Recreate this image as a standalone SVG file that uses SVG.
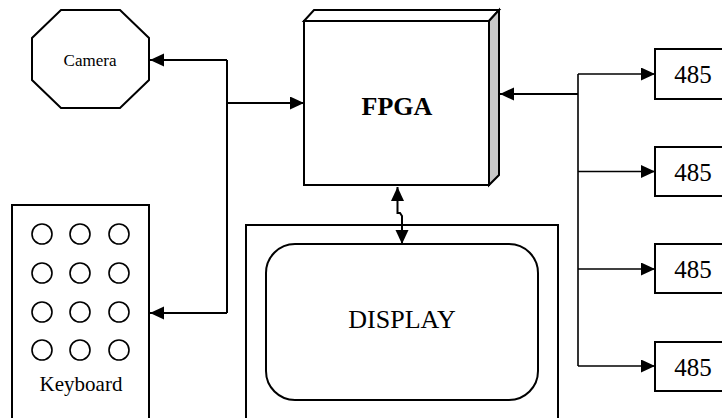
<svg xmlns="http://www.w3.org/2000/svg" width="722" height="418" viewBox="0 0 722 418">
  <style>
    .shape { fill: #fff; stroke: #000; stroke-width: 2; }
    .key { fill: none; stroke: #000; stroke-width: 1.6; }
    .wire { fill: none; stroke: #000; stroke-width: 2; }
    .thin { fill: none; stroke: #000; stroke-width: 1.6; }
    .lbl { font-family: "Liberation Serif", "Times New Roman", serif; fill: #000; text-anchor: middle; }
  </style>
  <defs>
    <marker id="arrow" markerUnits="userSpaceOnUse" markerWidth="15" markerHeight="14" refX="14" refY="6.5" orient="auto-start-reverse">
      <path d="M0,0 L14,6.5 L0,13 z" fill="#000"/>
    </marker>
  </defs>
  <rect width="722" height="418" fill="#fff"/>

  <g id="camera">
    <polygon class="shape" points="61,10 120,10 149,38 149,80 120,108 61,108 32,80 32,38"/>
    <text class="lbl" x="90" y="66" font-size="17">Camera</text>
  </g>

  <g id="fpga">
    <polygon class="shape" points="304,21 314,10 499,10 489,21"/>
    <polygon points="489,21 499,10 499,175 489,185" fill="#c8c8c8" stroke="#000" stroke-width="2"/>
    <rect class="shape" x="304" y="21" width="185" height="164"/>
    <text class="lbl" x="397" y="115" font-size="26" font-weight="bold">FPGA</text>
  </g>

  <g id="keyboard">
    <rect class="shape" x="12" y="205" width="137" height="230"/>
    <circle class="key" cx="42" cy="234" r="10"/>
    <circle class="key" cx="80" cy="234" r="10"/>
    <circle class="key" cx="119" cy="234" r="10"/>
    <circle class="key" cx="42" cy="273" r="10"/>
    <circle class="key" cx="80" cy="273" r="10"/>
    <circle class="key" cx="119" cy="273" r="10"/>
    <circle class="key" cx="42" cy="312" r="10"/>
    <circle class="key" cx="80" cy="312" r="10"/>
    <circle class="key" cx="119" cy="312" r="10"/>
    <circle class="key" cx="42" cy="350" r="10"/>
    <circle class="key" cx="80" cy="350" r="10"/>
    <circle class="key" cx="119" cy="350" r="10"/>
    <text class="lbl" x="81" y="391" font-size="21">Keyboard</text>
  </g>

  <g id="display">
    <rect class="shape" x="246" y="225" width="312" height="210"/>
    <rect class="shape" x="266" y="244" width="272" height="156" rx="29" ry="29"/>
    <text class="lbl" x="402" y="328" font-size="26">DISPLAY</text>
  </g>

  <g id="rs485-1">
    <rect class="shape" x="655" y="49" width="80" height="50"/>
    <text class="lbl" x="693" y="83" font-size="25">485</text>
  </g>
  <g id="rs485-2">
    <rect class="shape" x="655" y="147" width="80" height="49"/>
    <text class="lbl" x="693" y="181" font-size="25">485</text>
  </g>
  <g id="rs485-3">
    <rect class="shape" x="655" y="244" width="80" height="49"/>
    <text class="lbl" x="693" y="278" font-size="25">485</text>
  </g>
  <g id="rs485-4">
    <rect class="shape" x="655" y="342" width="80" height="49"/>
    <text class="lbl" x="693" y="376" font-size="25">485</text>
  </g>

  <g id="connectors">
    <!-- left bus: camera, keyboard and FPGA -->
    <path class="wire" d="M227,60 V313"/>
    <path class="wire" d="M227,60 H150" marker-end="url(#arrow)"/>
    <path class="wire" d="M227,313 H150" marker-end="url(#arrow)"/>
    <path class="wire" d="M227,103 H304" marker-end="url(#arrow)"/>
    <!-- right bus: FPGA and 485 ports -->
    <path class="wire" d="M578,94 H500" marker-end="url(#arrow)" stroke-width="2.4"/>
    <path class="thin" d="M578,74 V366"/>
    <path class="thin" d="M578,74 H655" marker-end="url(#arrow)"/>
    <path class="thin" d="M578,171.5 H655" marker-end="url(#arrow)"/>
    <path class="thin" d="M578,269 H655" marker-end="url(#arrow)"/>
    <path class="thin" d="M578,366 H655" marker-end="url(#arrow)"/>
    <!-- FPGA to display link -->
    <path class="wire" d="M397.5,187 V213 H400 L402,216 V244" marker-start="url(#arrow)" marker-end="url(#arrow)"/>
  </g>
</svg>
